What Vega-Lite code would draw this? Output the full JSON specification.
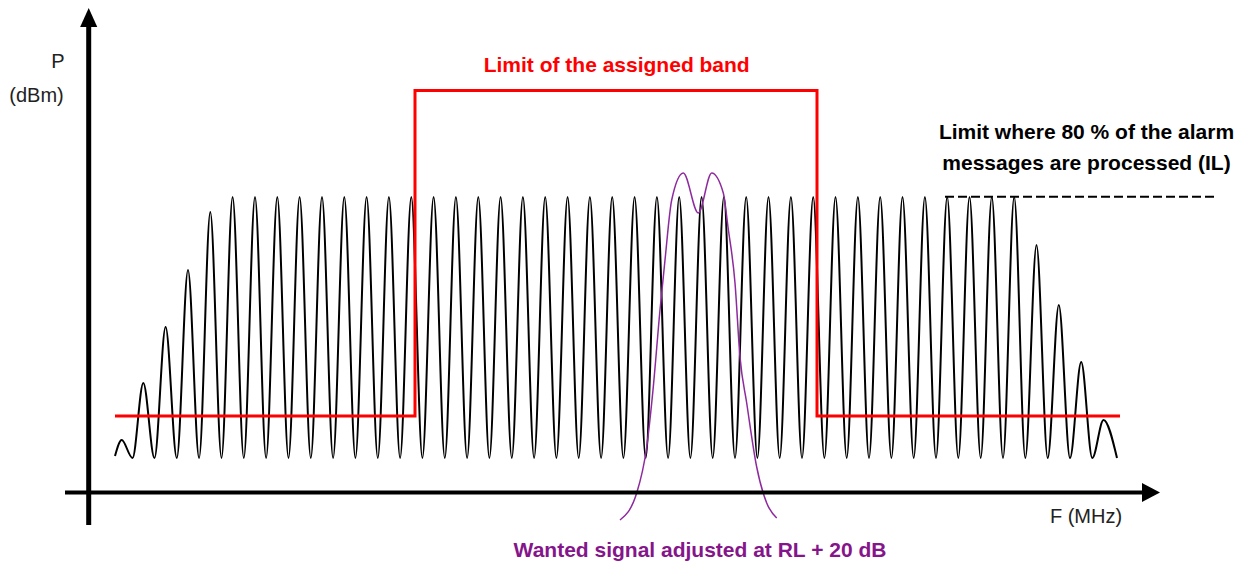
{
  "$schema": "https://vega.github.io/schema/vega-lite/v6.json",
  "width": 1248,
  "height": 564,
  "autosize": {"type": "fit", "contains": "padding"},
  "padding": 0,
  "background": "white",
  "config": {"view": {"stroke": null}},
  "encoding": {
    "x": {"field": "f", "type": "quantitative", "scale": {"domain": [0, 1248], "nice": false, "zero": false}, "axis": null},
    "y": {"field": "p", "type": "quantitative", "scale": {"domain": [0, 564], "nice": false, "zero": false}, "axis": null}
  },
  "layer": [
    {
      "data": {"values": [
        {"f": 115, "p": 108}, {"f": 121.7, "p": 124}, {"f": 132.5, "p": 106},
        {"f": 143.3, "p": 181}, {"f": 154.5, "p": 106},
        {"f": 165.6, "p": 237}, {"f": 176.8, "p": 106},
        {"f": 188.0, "p": 294}, {"f": 199.1, "p": 106},
        {"f": 210.3, "p": 352}, {"f": 221.5, "p": 106},
        {"f": 232.6, "p": 367}, {"f": 243.8, "p": 106},
        {"f": 255.0, "p": 367}, {"f": 266.1, "p": 106},
        {"f": 277.3, "p": 367}, {"f": 288.5, "p": 106},
        {"f": 299.6, "p": 367}, {"f": 310.8, "p": 106},
        {"f": 322.0, "p": 367}, {"f": 333.1, "p": 106},
        {"f": 344.3, "p": 367}, {"f": 355.4, "p": 106},
        {"f": 366.6, "p": 367}, {"f": 377.8, "p": 106},
        {"f": 388.9, "p": 367}, {"f": 400.1, "p": 106},
        {"f": 411.3, "p": 367}, {"f": 422.4, "p": 106},
        {"f": 433.6, "p": 367}, {"f": 444.8, "p": 106},
        {"f": 455.9, "p": 367}, {"f": 467.1, "p": 106},
        {"f": 478.3, "p": 367}, {"f": 489.4, "p": 106},
        {"f": 500.6, "p": 367}, {"f": 511.8, "p": 106},
        {"f": 522.9, "p": 367}, {"f": 534.1, "p": 106},
        {"f": 545.2, "p": 367}, {"f": 556.4, "p": 106},
        {"f": 567.6, "p": 367}, {"f": 578.7, "p": 106},
        {"f": 589.9, "p": 367}, {"f": 601.1, "p": 106},
        {"f": 612.2, "p": 367}, {"f": 623.4, "p": 106},
        {"f": 634.6, "p": 367}, {"f": 645.7, "p": 106},
        {"f": 656.9, "p": 367}, {"f": 668.1, "p": 106},
        {"f": 679.2, "p": 367}, {"f": 690.4, "p": 106},
        {"f": 701.6, "p": 367}, {"f": 712.7, "p": 106},
        {"f": 723.9, "p": 367}, {"f": 735.0, "p": 106},
        {"f": 746.2, "p": 367}, {"f": 757.4, "p": 106},
        {"f": 768.5, "p": 367}, {"f": 779.7, "p": 106},
        {"f": 790.9, "p": 367}, {"f": 802.0, "p": 106},
        {"f": 813.2, "p": 367}, {"f": 824.4, "p": 106},
        {"f": 835.5, "p": 367}, {"f": 846.7, "p": 106},
        {"f": 857.9, "p": 367}, {"f": 869.0, "p": 106},
        {"f": 880.2, "p": 367}, {"f": 891.4, "p": 106},
        {"f": 902.5, "p": 367}, {"f": 913.7, "p": 106},
        {"f": 924.9, "p": 367}, {"f": 936.0, "p": 106},
        {"f": 947.2, "p": 367}, {"f": 958.3, "p": 106},
        {"f": 969.5, "p": 367}, {"f": 980.7, "p": 106},
        {"f": 991.8, "p": 367}, {"f": 1003.0, "p": 106},
        {"f": 1014.2, "p": 367}, {"f": 1025.3, "p": 106},
        {"f": 1036.5, "p": 319}, {"f": 1047.7, "p": 106},
        {"f": 1058.8, "p": 259}, {"f": 1070.0, "p": 106},
        {"f": 1081.2, "p": 202}, {"f": 1092.3, "p": 106},
        {"f": 1103.5, "p": 144}, {"f": 1117, "p": 106}
      ]},
      "mark": {"type": "line", "interpolate": "monotone", "color": "black", "strokeWidth": 2}
    },
    {
      "data": {"values": [
        {"f": 115, "p": 148, "o": 1},
        {"f": 415, "p": 148, "o": 2},
        {"f": 415, "p": 473.5, "o": 3},
        {"f": 817, "p": 473.5, "o": 4},
        {"f": 817, "p": 148, "o": 5},
        {"f": 1120, "p": 148, "o": 6}
      ]},
      "mark": {"type": "line", "color": "#ff0000", "strokeWidth": 3, "strokeJoin": "miter"},
      "encoding": {"order": {"field": "o", "type": "quantitative"}}
    },
    {
      "data": {"values": [
        {"f": 620, "p": 44}, {"f": 636.7, "p": 71}, {"f": 646.7, "p": 117},
        {"f": 653, "p": 174}, {"f": 660, "p": 254}, {"f": 665, "p": 304},
        {"f": 671.7, "p": 364}, {"f": 683.3, "p": 391}, {"f": 698.3, "p": 351},
        {"f": 711.7, "p": 391}, {"f": 723.3, "p": 371}, {"f": 728, "p": 337},
        {"f": 735, "p": 281}, {"f": 740, "p": 207}, {"f": 746.7, "p": 161},
        {"f": 756.7, "p": 97}, {"f": 766.7, "p": 61}, {"f": 776.7, "p": 46}
      ]},
      "mark": {"type": "line", "interpolate": "monotone", "color": "#8e2a9e", "strokeWidth": 1.5}
    },
    {
      "data": {"values": [{"f": 945, "p": 367.3}, {"f": 1215, "p": 367.3}]},
      "mark": {"type": "line", "color": "black", "strokeWidth": 2, "strokeDash": [9, 4]}
    },
    {
      "data": {"values": [{"f": 88.7, "p": 39, "p2": 542}]},
      "mark": {"type": "rule", "color": "black", "strokeWidth": 5},
      "encoding": {"y2": {"field": "p2"}}
    },
    {
      "data": {"values": [{"f": 65, "f2": 1150, "p": 71.5}]},
      "mark": {"type": "rule", "color": "black", "strokeWidth": 4},
      "encoding": {"x2": {"field": "f2"}}
    },
    {
      "data": {"values": [{"f": 88.7, "p": 546.5}]},
      "mark": {"type": "point", "shape": "M0,-1L-0.9,1L0.9,1Z", "size": 361, "filled": true, "color": "black", "opacity": 1}
    },
    {
      "data": {"values": [{"f": 1151, "p": 71.5}]},
      "mark": {"type": "point", "shape": "M0.95,0L-0.95,-1L-0.95,1Z", "size": 361, "filled": true, "color": "black", "opacity": 1}
    },
    {
      "data": {"values": [{"f": 616.7, "p": 491.7, "label": "Limit of the assigned band"}]},
      "mark": {"type": "text", "font": "Liberation Sans", "fontWeight": "bold", "fontSize": 21, "color": "#ff0000", "align": "center", "baseline": "alphabetic"},
      "encoding": {"text": {"field": "label"}}
    },
    {
      "data": {"values": [
        {"f": 1086.5, "p": 425.5, "label": "Limit where 80 % of the alarm"},
        {"f": 1086.5, "p": 394, "label": "messages are processed (IL)"}
      ]},
      "mark": {"type": "text", "font": "Liberation Sans", "fontWeight": "bold", "fontSize": 21, "color": "black", "align": "center", "baseline": "alphabetic"},
      "encoding": {"text": {"field": "label"}}
    },
    {
      "data": {"values": [{"f": 700, "p": 7.3, "label": "Wanted signal adjusted at RL + 20 dB"}]},
      "mark": {"type": "text", "font": "Liberation Sans", "fontWeight": "bold", "fontSize": 21, "color": "#85158a", "align": "center", "baseline": "alphabetic"},
      "encoding": {"text": {"field": "label"}}
    },
    {
      "data": {"values": [
        {"f": 58, "p": 495.7, "label": "P"},
        {"f": 36.5, "p": 462.3, "label": "(dBm)"},
        {"f": 1086, "p": 40.7, "label": "F (MHz)"}
      ]},
      "mark": {"type": "text", "font": "Liberation Sans", "fontSize": 20, "color": "#222222", "align": "center", "baseline": "alphabetic"},
      "encoding": {"text": {"field": "label"}}
    }
  ]
}
